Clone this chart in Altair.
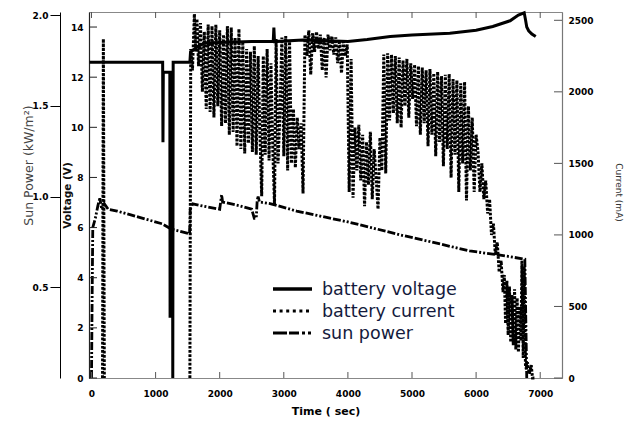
import altair as alt
import pandas as pd

# ---------------- data ----------------
volt_t = [-30, 1110, 1115, 1120, 1222, 1226, 1230, 1262, 1268, 1274,
          1535, 1545, 1650, 1750, 2000, 2500, 2835, 2845, 2855, 3300,
          3700, 4000, 4300, 4660, 5000, 5590, 6000, 6260, 6530, 6660,
          6750, 6770, 6790, 6820, 6870, 6930]
volt_v = [12.6, 12.6, 9.4, 12.2, 12.2, 2.4, 12.2, 12.2, 0.0, 12.6,
          12.6, 13.0, 13.2, 13.35, 13.38, 13.42, 13.42, 13.98, 13.42, 13.48,
          13.45, 13.42, 13.5, 13.62, 13.68, 13.75, 13.87, 14.02, 14.25, 14.48,
          14.57, 14.3, 14.0, 13.85, 13.72, 13.62]

sun_t = [0, 10, 20, 60, 100, 130, 160, 200, 260, 400,
         600, 900, 1100, 1250, 1530, 1540, 1580, 1700, 2000, 2030,
         2045, 2300, 2500, 2540, 2570, 2585, 2600, 2620, 2800, 3200,
         3600, 4000, 4350, 4800, 5300, 5900, 6260, 6500, 6760, 6790]
sun_kw = [0.0, 0.45, 0.83, 0.88, 0.95, 0.99, 0.93, 0.96, 0.93, 0.92,
          0.90, 0.87, 0.85, 0.82, 0.795, 0.93, 0.96, 0.95, 0.93, 1.01,
          0.97, 0.95, 0.93, 0.88, 0.88, 0.98, 1.0, 0.97, 0.96, 0.92,
          0.89, 0.86, 0.83, 0.79, 0.75, 0.70, 0.683, 0.67, 0.655, 0.0]

# (segment, time s, current mA)
current_points = [
    (0, 172, 0), (0, 185, 2370), (0, 200, 0),
    (1, 1535, 0), (1, 1548, 2300), (1, 1575, 2150), (1, 1605, 2545), (1, 1625, 2280),
    (1, 1645, 2510), (1, 1670, 2180), (1, 1700, 2480), (1, 1730, 2000), (1, 1760, 2420), (1, 1790, 1880),
    (1, 1820, 2470), (1, 1850, 1860), (1, 1880, 2460), (1, 1910, 1820), (1, 1940, 2470), (1, 1970, 1900),
    (1, 2000, 2430), (1, 2030, 1760), (1, 2060, 2400), (1, 2090, 1780), (1, 2120, 2460), (1, 2150, 1700),
    (1, 2180, 2450), (1, 2210, 1720), (1, 2240, 2380), (1, 2270, 1620), (1, 2300, 2440), (1, 2330, 1600),
    (1, 2360, 2350), (1, 2390, 1570), (1, 2420, 2300), (1, 2450, 1640), (1, 2480, 2280), (1, 2510, 1580),
    (1, 2540, 2320), (1, 2570, 1560), (1, 2600, 2250), (1, 2628, 1700), (1, 2655, 1270), (1, 2680, 2250),
    (1, 2710, 1560), (1, 2740, 2300), (1, 2770, 1520), (1, 2800, 2200), (1, 2828, 1600), (1, 2855, 1210),
    (1, 2880, 2370), (1, 2910, 1500), (1, 2940, 1850),
    (1, 2970, 2380), (1, 3000, 1550), (1, 3030, 2390), (1, 3060, 1450), (1, 3090, 2350), (1, 3120, 1500),
    (1, 3150, 1880), (1, 3180, 1470), (1, 3210, 1820), (1, 3240, 1600), (1, 3270, 1780), (1, 3300, 1290),
    (1, 3330, 2400), (1, 3360, 2250), (1, 3390, 2430), (1, 3420, 2120), (1, 3450, 2410), (1, 3480, 2280),
    (1, 3510, 2420), (1, 3540, 2300), (1, 3570, 2400), (1, 3600, 2150), (1, 3630, 2380), (1, 3660, 2100),
    (1, 3690, 2400), (1, 3720, 2290), (1, 3750, 2390), (1, 3780, 2260), (1, 3810, 2380), (1, 3840, 2200),
    (1, 3870, 2360), (1, 3900, 2130), (1, 3930, 2350), (1, 3960, 2250), (1, 3990, 2330),
    (1, 4020, 1300), (1, 4050, 2230), (1, 4080, 1260), (1, 4110, 1750), (1, 4140, 1450), (1, 4170, 1770),
    (1, 4200, 1380), (1, 4230, 1700), (1, 4260, 1200), (1, 4290, 1650), (1, 4320, 1350), (1, 4350, 1720),
    (1, 4380, 1250), (1, 4410, 1600), (1, 4440, 1400), (1, 4470, 1180), (1, 4500, 1680), (1, 4530, 1450),
    (1, 4560, 2260),
    (1, 4590, 1430), (1, 4620, 2270), (1, 4650, 1800), (1, 4680, 2260), (1, 4710, 1850), (1, 4740, 2250),
    (1, 4770, 1780), (1, 4800, 2240), (1, 4830, 1750), (1, 4860, 2220), (1, 4890, 1900), (1, 4920, 2230),
    (1, 4950, 1820), (1, 4980, 2200), (1, 5010, 1950), (1, 5040, 2190), (1, 5070, 1760), (1, 5100, 2180),
    (1, 5130, 1700), (1, 5160, 2170), (1, 5190, 1780), (1, 5220, 2150), (1, 5250, 1620), (1, 5280, 2160),
    (1, 5310, 1700), (1, 5340, 2130), (1, 5370, 1550), (1, 5400, 2140), (1, 5430, 1650), (1, 5460, 2110),
    (1, 5490, 1480), (1, 5520, 2120), (1, 5550, 1600),
    (1, 5580, 2125), (1, 5610, 1400), (1, 5640, 2090), (1, 5670, 1560), (1, 5700, 2080), (1, 5730, 1300),
    (1, 5760, 2060), (1, 5790, 1500), (1, 5820, 2070), (1, 5850, 1240), (1, 5880, 1900), (1, 5910, 1450),
    (1, 5940, 1820), (1, 5970, 1300), (1, 6000, 1700),
    (1, 6030, 1580), (1, 6060, 1300), (1, 6090, 1500), (1, 6120, 1250), (1, 6150, 1380), (1, 6180, 1150),
    (1, 6210, 1250), (1, 6240, 1000), (1, 6270, 1080), (1, 6300, 860), (1, 6330, 950), (1, 6360, 740),
    (1, 6390, 820), (1, 6420, 600),
    (1, 6440, 720), (1, 6460, 380), (1, 6480, 680), (1, 6500, 300), (1, 6520, 640), (1, 6540, 250),
    (1, 6560, 580), (1, 6580, 230), (1, 6600, 620), (1, 6620, 200), (1, 6640, 560), (1, 6660, 180),
    (1, 6680, 500), (1, 6700, 260), (1, 6715, 820), (1, 6735, 140), (1, 6750, 780), (1, 6770, 90),
    (1, 6785, 60), (1, 6800, 110), (1, 6830, 30), (1, 6860, 90), (1, 6880, 0), (1, 6930, 0),
]

x_ticks = [0, 1000, 2000, 3000, 4000, 5000, 6000, 7000]
volt_ticks = [0, 2, 4, 6, 8, 10, 12, 14]
cur_ticks = [0, 500, 1000, 1500, 2000, 2500]
sun_ticks = [0.5, 1.0, 1.5, 2.0]
legend_labels = ["battery voltage", "battery current", "sun power"]

# ---------------- layout ----------------
W, H = 473, 366
FONT = "DejaVu Sans"

volt_df = pd.DataFrame({"t": volt_t, "v": volt_v, "i": range(len(volt_t))})
sun_df = pd.DataFrame({"t": sun_t, "p": sun_kw, "i": range(len(sun_t))})
cur_df = pd.DataFrame({"seg": [s for s, a, b in current_points],
                       "t": [a for s, a, b in current_points],
                       "c": [b for s, a, b in current_points],
                       "i": range(len(current_points))})

xs = alt.Scale(domain=[-39, 7340], nice=False, zero=False)
vs = alt.Scale(domain=[0, 14.6], nice=False)
cs = alt.Scale(domain=[0, 2558], nice=False)
ps = alt.Scale(domain=[0, 2.017], nice=False)

lab = dict(labelFont=FONT, labelFontSize=9, labelFontWeight="bold", labelColor="#000", grid=False)

x_axis = alt.Axis(values=x_ticks, format="d", ticks=False, tickSize=0, labelPadding=11,
                  domainColor="#888", domainWidth=1, labelOverlap=False,
                  title="Time ( sec)", titleFont=FONT, titleFontSize=11, titleFontWeight="bold",
                  titleColor="#000", titleX=W / 2, titleY=33, titleAlign="center",
                  titleBaseline="middle", **lab)
v_axis = alt.Axis(orient="left", values=volt_ticks, format="d", ticks=False, tickSize=0, labelPadding=6,
                  domainColor="#222", domainWidth=1.2, labelOverlap=False,
                  title="Voltage (V)", titleFont=FONT, titleFontSize=10.5, titleFontWeight="bold",
                  titleColor="#111", titleAngle=270, titleX=-22, titleY=183,
                  titleAlign="center", titleBaseline="middle", **lab)
c_axis = alt.Axis(orient="right", values=cur_ticks, format="d", ticks=False, tickSize=0, labelPadding=6,
                  domainColor="#777", domainWidth=1.2, labelOverlap=False,
                  title="Current (mA)", titleFont=FONT, titleFontSize=9, titleFontWeight="normal",
                  titleColor="#333", titleAngle=90, titleX=56, titleY=180,
                  titleAlign="center", titleBaseline="middle", **lab)
p_axis = alt.Axis(orient="left", offset=29, values=sun_ticks, format=".1f", ticks=True,
                  tickSize=10, tickColor="#000", labelPadding=2, domainColor="#000",
                  labelOverlap=False,
                  title="Sun Power (kW/m²)", titleFont=FONT, titleFontSize=12.5,
                  titleFontWeight="normal", titleColor="#444", titleAngle=270,
                  titleX=-32, titleY=153, titleAlign="center", titleBaseline="middle", **lab)

X = alt.X("t:Q", scale=xs, axis=x_axis)

sun_line = alt.Chart(sun_df).mark_line(
    color="#000", strokeWidth=2.8, strokeDash=[8, 2, 8, 2, 2, 2, 2, 2]
).encode(x=X, y=alt.Y("p:Q", scale=ps, axis=p_axis), order="i:Q")

volt_line = alt.Chart(volt_df).mark_line(color="#000", strokeWidth=3).encode(
    x=X, y=alt.Y("v:Q", scale=vs, axis=v_axis), order="i:Q")

xt_df = pd.DataFrame({"t": x_ticks})
xtick_bot = alt.Chart(xt_df).mark_rule(color="#555", strokeWidth=1).encode(
    x=X, y=alt.value(H - 6), y2=alt.value(H))
xtick_top = alt.Chart(xt_df).mark_rule(color="#555", strokeWidth=1).encode(
    x=X, y=alt.value(0), y2=alt.value(6))
vtick = alt.Chart(pd.DataFrame({"v": volt_ticks})).mark_rule(color="#222", strokeWidth=1).encode(
    y=alt.Y("v:Q", scale=vs, axis=v_axis), x=alt.value(0), x2=alt.value(8))

volt_group = alt.layer(volt_line, vtick, xtick_bot, xtick_top)

cur_line = alt.Chart(cur_df).mark_line(
    color="#000", strokeWidth=3, strokeDash=[2.7, 1.5]
).encode(x=X, y=alt.Y("c:Q", scale=cs, axis=c_axis), detail="seg:N", order="i:Q")
ctick = alt.Chart(pd.DataFrame({"c": cur_ticks})).mark_rule(color="#555", strokeWidth=1).encode(
    y=alt.Y("c:Q", scale=cs, axis=c_axis), x=alt.value(W - 8), x2=alt.value(W))
cur_group = alt.layer(cur_line, ctick)

# legend (drawn manually inside the plot)
leg_styles = [dict(strokeWidth=3.5),
              dict(strokeWidth=3, strokeDash=[3, 3.6]),
              dict(strokeWidth=3, strokeDash=[14, 2, 10, 3, 3, 3, 3, 3])]
leg_layers = []
for k, (label, sty) in enumerate(zip(legend_labels, leg_styles)):
    yy = 277 + 22 * k
    one = pd.DataFrame({"label": [label]})
    leg_layers.append(alt.Chart(one).mark_rule(color="#000", **sty).encode(
        x=alt.value(184), x2=alt.value(223), y=alt.value(yy)))
    leg_layers.append(alt.Chart(one).mark_text(
        align="left", baseline="middle", font=FONT, fontSize=17.5, color="#141a3c"
    ).encode(text="label:N", x=alt.value(233), y=alt.value(yy + 1)))

chart = alt.layer(sun_line, volt_group, cur_group, *leg_layers).resolve_scale(
    y="independent"
).properties(
    width=W, height=H,
    autosize=alt.AutoSizeParams(type="none"),
    padding={"left": 81, "top": 4, "right": 64, "bottom": 40},
    background="white",
).configure_view(stroke="#888", strokeWidth=1)

chart.save("out.html", embed_options={"renderer": "svg", "actions": False})
